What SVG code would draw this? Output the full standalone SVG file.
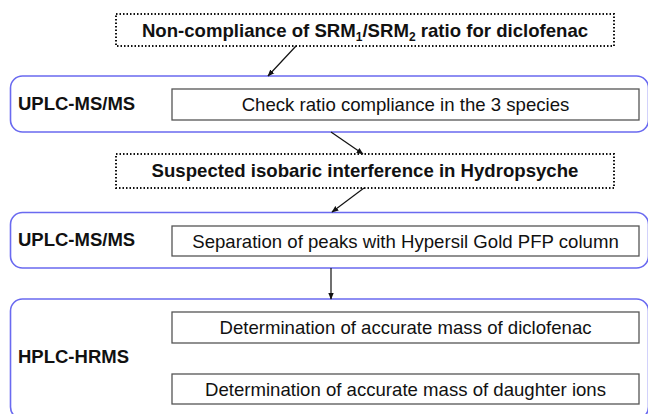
<svg xmlns="http://www.w3.org/2000/svg" width="648" height="414" viewBox="0 0 648 414">
<style>
.grp{fill:#fff;stroke:#6a6af0;stroke-width:1.6}
.dot{fill:#fff;stroke:#111;stroke-width:2;stroke-dasharray:1.5 2}
.box{fill:#fff;stroke:#555;stroke-width:1.3}
.lbl{font-family:"Liberation Sans",Arial,sans-serif;font-weight:bold;font-size:18.5px;fill:#111}
.ttl{font-family:"Liberation Sans",Arial,sans-serif;font-weight:bold;font-size:18.6px;fill:#111;text-anchor:middle}
.txt{font-family:"Liberation Sans",Arial,sans-serif;font-size:18.6px;fill:#111;text-anchor:middle}
.con{stroke:#111;stroke-width:1.2;fill:none;marker-end:url(#ah)}
</style>
<defs>
<marker id="ah" viewBox="0 0 10 10" refX="9" refY="5" markerWidth="7" markerHeight="7" orient="auto" markerUnits="userSpaceOnUse">
<path d="M0,1 L10,5 L0,9 z" fill="#111"/>
</marker>
</defs>
<rect width="648" height="414" fill="#fff"/>
<g id="n1">
<rect class="dot" x="116" y="14" width="498" height="32"/>
<text class="ttl" x="365" y="37">Non-compliance of SRM<tspan font-size="12" dy="4">1</tspan><tspan dy="-4">/SRM</tspan><tspan font-size="12" dy="4">2</tspan><tspan dy="-4"> ratio for diclofenac</tspan></text>
</g>
<g id="g1">
<rect class="grp" x="10.5" y="76" width="638" height="56" rx="12"/>
<text class="lbl" x="18" y="110">UPLC-MS/MS</text>
<g id="n2">
<rect class="box" x="172" y="89" width="467" height="31"/>
<text class="txt" x="405.5" y="111">Check ratio compliance in the 3 species</text>
</g>
</g>
<g id="n3">
<rect class="dot" x="116" y="154" width="498" height="34"/>
<text class="ttl" x="365" y="177">Suspected isobaric interference in Hydropsyche</text>
</g>
<g id="g2">
<rect class="grp" x="10.5" y="212.5" width="638" height="55.5" rx="12"/>
<text class="lbl" x="18" y="246">UPLC-MS/MS</text>
<g id="n4">
<rect class="box" x="172" y="226" width="467" height="30"/>
<text class="txt" x="405.5" y="247.5">Separation of peaks with Hypersil Gold PFP column</text>
</g>
</g>
<g id="g3">
<rect class="grp" x="10.5" y="299" width="638" height="120" rx="12"/>
<text class="lbl" x="18" y="363">HPLC-HRMS</text>
<g id="n5">
<rect class="box" x="172" y="312" width="467" height="31"/>
<text class="txt" x="405.5" y="334">Determination of accurate mass of diclofenac</text>
</g>
<g id="n6">
<rect class="box" x="172" y="374" width="467" height="30"/>
<text class="txt" x="405.5" y="395.5">Determination of accurate mass of daughter ions</text>
</g>
</g>
<g id="connectors">
<line class="con" x1="296" y1="46" x2="268" y2="76"/>
<line class="con" x1="331" y1="132" x2="363" y2="154"/>
<line class="con" x1="364" y1="188" x2="332" y2="212"/>
<line class="con" x1="331" y1="268" x2="331" y2="299"/>
</g>
</svg>
